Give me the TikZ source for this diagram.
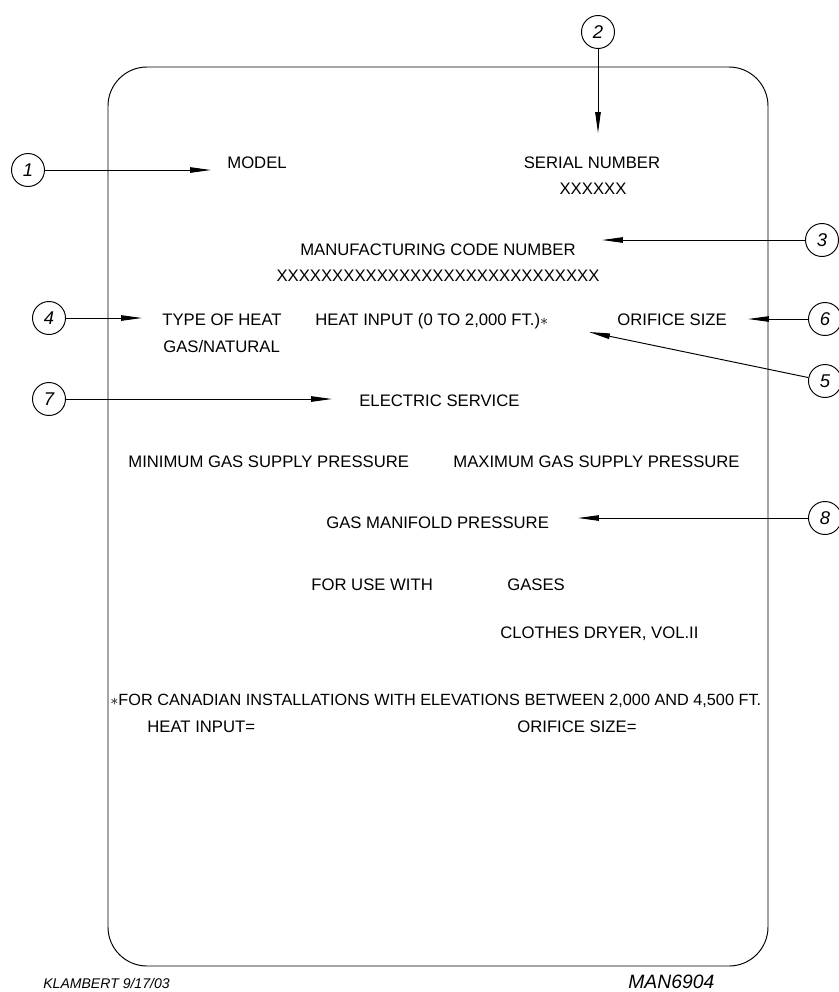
\documentclass[tikz,border=0pt]{standalone}
\usepackage{fontspec}
\setmainfont{Liberation Sans}
\usetikzlibrary{arrows.meta,positioning}

\tikzset{
  tag/.style={circle,draw,line width=0.55pt,minimum size=0.66cm,inner sep=0pt,
    font=\itshape\fontsize{10.5}{10.5}\selectfont},
  txt/.style={anchor=west,inner sep=0pt,text height=6.8pt,text depth=0pt,
    font=\fontsize{9.5}{10}\selectfont},
  ctxt/.style={txt,anchor=center},
  pointer/.style={line width=0.55pt,-{Triangle[length=0.42cm,width=0.11cm]}},
}

\begin{document}
\begin{tikzpicture}[x=0.02cm,y=-0.02cm]
  \useasboundingbox (0,0) rectangle (839,992);

  % plate outline
  \draw[line width=0.55pt,rounded corners=0.78cm] (108,67) rectangle (768,966);

  % plate texts
  \node[txt] (model) at (227,163) {MODEL};
  \node[ctxt] (serial) at (592,163) {SERIAL NUMBER};
  \node[ctxt] (serialx) at (593,189) {XXXXXX};
  \node[ctxt] (mfg) at (438,250) {MANUFACTURING CODE NUMBER};
  \node[ctxt] (mfgx) at (438,276) {XXXXXXXXXXXXXXXXXXXXXXXXXXXXX};
  \node[txt] (heattype) at (162,320) {TYPE OF HEAT};
  \node[txt] (heatin) at (315,320) {HEAT INPUT (0 TO 2,000 FT.)$\ast$};
  \node[txt] (orifice) at (617,320) {ORIFICE SIZE};
  \node[txt] (gasnat) at (163,347) {GAS/NATURAL};
  \node[txt] (elec) at (359,401) {ELECTRIC SERVICE};
  \node[txt] (minp) at (128,462) {MINIMUM GAS SUPPLY PRESSURE};
  \node[txt] (maxp) at (453,462) {MAXIMUM GAS SUPPLY PRESSURE};
  \node[txt] (manif) at (326,523) {GAS MANIFOLD PRESSURE};
  \node[txt] (foruse) at (311,585) {FOR USE WITH};
  \node[txt] (gases) at (507,585) {GASES};
  \node[txt] (dryer) at (500,633) {CLOTHES DRYER, VOL.II};
  \node[txt,font=\fontsize{9.25}{10}\selectfont] (canada) at (110,700)
    {$\ast$FOR CANADIAN INSTALLATIONS WITH ELEVATIONS BETWEEN 2,000 AND 4,500 FT.};
  \node[txt] (hin) at (147,727) {HEAT INPUT=};
  \node[txt] (ofs) at (517,727) {ORIFICE SIZE=};

  % drawing marks
  \node[txt,font=\itshape\fontsize{8}{9}\selectfont] (drawn) at (43,983) {KLAMBERT 9/17/03};
  \node[txt,font=\itshape\fontsize{11}{12}\selectfont] (dwgno) at (628,983) {MAN6904};

  % callouts
  \node[tag] (c1) at (28,170) {1};
  \node[tag] (c2) at (598,32) {2};
  \node[tag] (c3) at (822,240) {3};
  \node[tag] (c4) at (49,318) {4};
  \node[tag] (c5) at (825,381) {5};
  \node[tag] (c6) at (825,319) {6};
  \node[tag] (c7) at (49,399) {7};
  \node[tag] (c8) at (825,518) {8};

  \coordinate (p1) at (211,170);
  \coordinate (p2) at (598,133);
  \coordinate (p3) at (602,240);
  \coordinate (p4) at (142,318);
  \coordinate (p5) at (589,332);
  \coordinate (p6) at (748,319);
  \coordinate (p7) at (332,399);
  \coordinate (p8) at (578,518);

  \draw[pointer] (c1) -- (p1);
  \draw[pointer] (c2) -- (p2);
  \draw[pointer] (c3) -- (p3);
  \draw[pointer] (c4) -- (p4);
  \draw[pointer] (c5) -- (p5);
  \draw[pointer] (c6) -- (p6);
  \draw[pointer] (c7) -- (p7);
  \draw[pointer] (c8) -- (p8);
\end{tikzpicture}
\end{document}
